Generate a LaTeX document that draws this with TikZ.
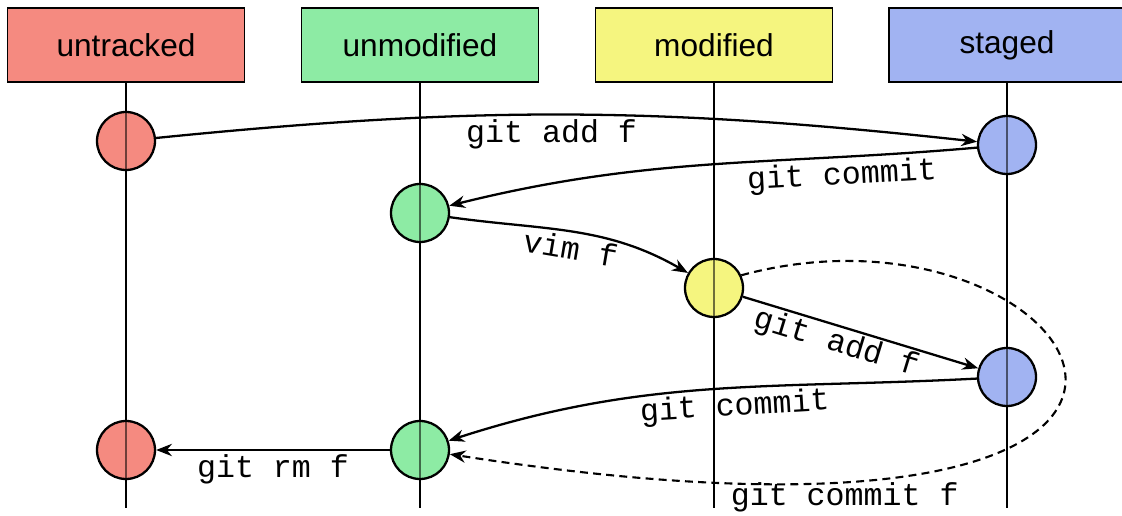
\documentclass[tikz,border=0pt]{standalone}
\usepackage{fontspec}
\setmainfont{Liberation Sans}
\setmonofont{Liberation Mono}
\usetikzlibrary{arrows.meta}
\definecolor{untr}{HTML}{F58A80}
\definecolor{unmod}{HTML}{8DEBA4}
\definecolor{modi}{HTML}{F5F57F}
\definecolor{stag}{HTML}{A1B3F2}
\tikzset{>={Stealth[length=9pt,width=7pt]}}
\tikzset{hdr/.style={draw, line width=1.1pt, minimum width=4.74cm, minimum height=1.48cm, font=\fontsize{18}{20}\selectfont}}
\tikzset{dot/.style={circle, draw, line width=1.3pt, minimum size=1.16cm, inner sep=0pt,
  path picture={\draw[opacity=0.55, line width=0.9pt] (path picture bounding box.north) -- (path picture bounding box.south);}}}
\tikzset{life/.style={line width=0.9pt}}
\tikzset{cmd/.style={font=\ttfamily\fontsize{18}{20}\selectfont, inner sep=2pt}}

\begin{document}
\begin{tikzpicture}[x=0.02cm, y=0.02cm, line width=1.3pt]
\useasboundingbox (0,0) rectangle (1122,-516);
% headers
\node[hdr, fill=untr] at (126,-45)(h1) {untracked};
\node[hdr, fill=unmod] at (420,-45)(h2) {unmodified};
\node[hdr, fill=modi] at (714,-45)(h3) {modified};
\node[hdr, fill=stag] at (1007,-45)(h4) {staged};
% lifelines
\coordinate (e1) at (126,-508);
\coordinate (e2) at (420,-508);
\coordinate (e3) at (714,-508);
\coordinate (e4) at (1007,-508);
\draw[life] (h1) -- (e1);
\draw[life] (h2) -- (e2);
\draw[life] (h3) -- (e3);
\draw[life] (h4) -- (e4);
% states
\node[dot, fill=untr] at (126,-141)(a1) {};
\node[dot, fill=stag] at (1007,-145)(s1) {};
\node[dot, fill=unmod] at (420,-213)(u1) {};
\node[dot, fill=modi] at (714,-288)(m1) {};
\node[dot, fill=stag] at (1007,-377)(s2) {};
\node[dot, fill=untr] at (126,-450)(a2) {};
\node[dot, fill=unmod] at (420,-450)(u2) {};
% transitions
\draw[->] (a1) to[bend left=6] node[cmd, below, pos=0.48]{git add f} (s1);
\draw[->] (s1) to[out=185, in=14] node[cmd, below, sloped, pos=0.24]{git commit} (u1);
\draw[->] (u1) to[out=-8, in=150] node[cmd, below, sloped, pos=0.5]{vim f} (m1);
\draw[->] (m1) -- node[cmd, below, sloped, pos=0.42, inner sep=1pt]{git add f} (s2);
\draw[->] (s2) to[out=183, in=18] node[cmd, below, sloped, pos=0.45]{git commit} (u2);
\draw[->] (u2) -- node[cmd, below]{git rm f} (a2);
\draw[->, dash pattern=on 4.5pt off 3pt, line width=1.2pt] (m1.25) .. controls +(350,95) and +(900,-140) .. (u2.-8)
  node[cmd, below, pos=0.81, inner sep=0pt]{git commit f};
\end{tikzpicture}
\end{document}
